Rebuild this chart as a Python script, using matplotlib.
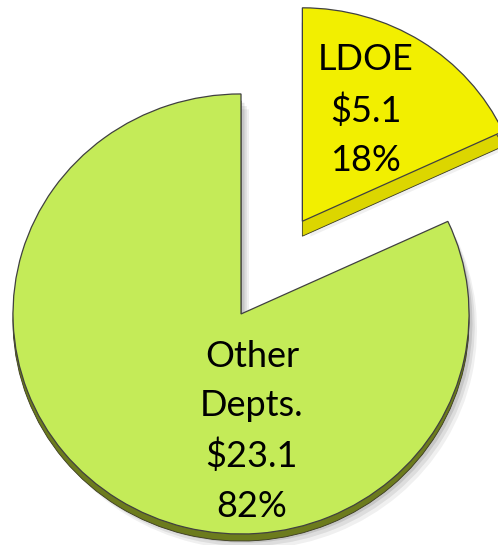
import numpy as np
import matplotlib.pyplot as plt

# ========================================
# data
# ========================================
labels = ["LDOE", "Other\nDepts."]
values = [5.1, 23.1]  # $ amounts
amount_labels = ["$5.1", "$23.1"]
pct_labels = ["18%", "82%"]

top_colors = ["#f2ef00", "#c4eb58"]
side_colors = ["#dcd600", "#6c7b1d"]
side_depth = [0.068, 0.032]  # thickness of each slice (y units)
slice_radius = [0.97, 1.0]
explode = [0.5, 0.0]

fig = plt.figure(figsize=(4.98, 5.45), dpi=100)
ax = fig.add_axes([0, 0, 1, 1])


def draw_pie(center=(0, 0), colors=None, depth=None, **wp):
    ws, _ = ax.pie(values, explode=explode, startangle=90, counterclock=False,
                   center=center, colors=colors, wedgeprops=wp)
    for i, w in enumerate(ws):
        w.set_radius(slice_radius[i])
        if depth is not None:
            cx, cy = w.center
            w.set_center((cx, cy - depth[i]))
    return ws


# soft drop shadow (a few faint copies)
for dx, dy, a in [(0.035, -0.07, 0.06), (0.025, -0.055, 0.08), (0.015, -0.04, 0.10)]:
    draw_pie(center=(dx, dy), colors=["#000000"] * 2, alpha=a, linewidth=0)

# side (thickness) of the disc
draw_pie(colors=side_colors, depth=side_depth, linewidth=0.6, edgecolor="#3a3a20")

# top face
draw_pie(colors=top_colors, linewidth=0.9, edgecolor="#404040")

# labels inside the wedges
text_pos = [(0.548, 0.927), (0.048, -0.532)]
for lab, amt, pct, (tx, ty) in zip(labels, amount_labels, pct_labels, text_pos):
    ax.text(tx, ty, f"{lab}\n{amt}\n{pct}", ha="center", va="center",
            fontsize=26, family="Lato", linespacing=1.6, color="black")

ax.set_aspect("auto")
ax.set_xlim(-1.057, 1.127)
ax.set_ylim(-1.05, 1.427)
ax.axis("off")

plt.savefig("out.png", dpi=100)
